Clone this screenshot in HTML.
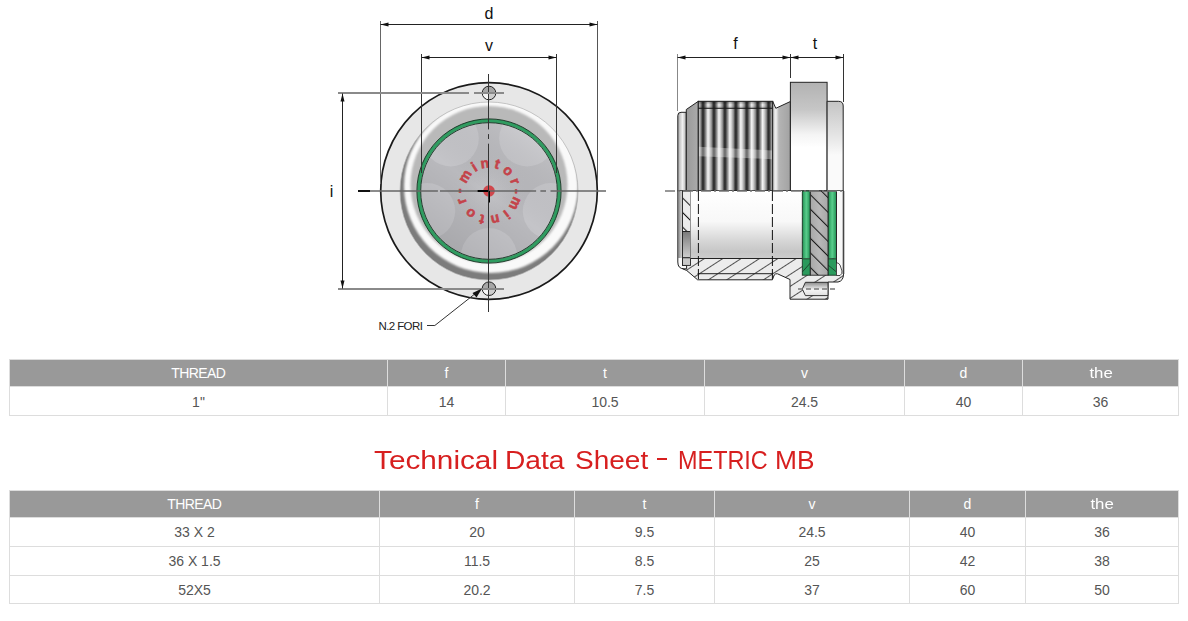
<!DOCTYPE html>
<html><head><meta charset="utf-8"><style>
*{margin:0;padding:0;box-sizing:border-box}
html,body{width:1188px;height:621px;overflow:hidden;background:#fff}
body{font-family:"Liberation Sans",sans-serif;position:relative}
.tb{position:absolute}
.tb div{position:absolute}
.th{background:#999}
.hl{left:0;height:1px;background:#ddd}
.vl{top:0;width:1px;background:#ddd}
.tht{color:#fff;font-size:14px;text-align:center;white-space:nowrap;letter-spacing:-0.6px;text-indent:-0.6px}
.tdt{color:#555;font-size:14px;text-align:center;white-space:nowrap}
.title{position:absolute;left:0;width:1188px;height:30px;color:#d71f1f;font-size:25px;top:445px;line-height:30px;white-space:nowrap}
.title span{position:absolute;top:0;transform-origin:0 0}
.title .hy{position:absolute;left:657px;top:13.4px;width:10px;height:1.8px;background:#d71f1f}
svg{position:absolute;left:0;top:0}
.dl{font-family:"Liberation Sans",sans-serif;font-size:16px;fill:#111}
.nf{font-family:"Liberation Sans",sans-serif;font-size:11.5px;letter-spacing:-0.6px;fill:#222}
.mt{font-family:"Liberation Sans",sans-serif;font-size:14px;font-weight:bold;fill:#c4434a;stroke:#c4434a;stroke-width:0.6px;text-anchor:middle}
</style></head>
<body>
<svg width="1188" height="345" viewBox="0 0 1188 345">

<defs>
<filter id="blur1" x="-20%" y="-20%" width="140%" height="140%"><feGaussianBlur stdDeviation="1.2"/></filter>
<filter id="blur2" x="-20%" y="-20%" width="140%" height="140%"><feGaussianBlur stdDeviation="1.6"/></filter>
<radialGradient id="lipg" cx="489" cy="191" r="89" gradientUnits="userSpaceOnUse">
 <stop offset="0.80" stop-color="#c2c2c2"/>
 <stop offset="0.87" stop-color="#dcdcdc"/>
 <stop offset="0.92" stop-color="#f7f7f7"/>
 <stop offset="0.97" stop-color="#f4f4f4"/>
 <stop offset="1" stop-color="#d4d4d4"/>
</radialGradient>
<linearGradient id="shadeOut" x1="0.75" y1="0.1" x2="0.3" y2="0.95">
 <stop offset="0" stop-color="#808080" stop-opacity="0"/>
 <stop offset="0.45" stop-color="#808080" stop-opacity="0.35"/>
 <stop offset="1" stop-color="#6a6a6a" stop-opacity="0.95"/>
</linearGradient>
<linearGradient id="lightIn" x1="0" y1="0" x2="0" y2="1">
 <stop offset="0" stop-color="#fff" stop-opacity="0"/>
 <stop offset="0.55" stop-color="#fff" stop-opacity="0"/>
 <stop offset="0.85" stop-color="#fff" stop-opacity="0.9"/>
 <stop offset="1" stop-color="#fff" stop-opacity="1"/>
</linearGradient>
<clipPath id="lipclip"><circle cx="489" cy="191" r="89"/></clipPath>
<radialGradient id="centerg" cx="489" cy="191" r="40" gradientUnits="userSpaceOnUse">
 <stop offset="0" stop-color="#cdcdd0" stop-opacity="0.5"/>
 <stop offset="1" stop-color="#b8b8bc" stop-opacity="0"/>
</radialGradient>
<linearGradient id="discshade" x1="0.8" y1="0.1" x2="0.2" y2="0.95">
 <stop offset="0" stop-color="#fff" stop-opacity="0.12"/>
 <stop offset="0.5" stop-color="#000" stop-opacity="0"/>
 <stop offset="1" stop-color="#000" stop-opacity="0.1"/>
</linearGradient>
<clipPath id="innerclip"><circle cx="489" cy="191" r="69"/></clipPath>
<linearGradient id="holeg" x1="0" y1="0" x2="0" y2="1">
 <stop offset="0" stop-color="#a4a4a4"/>
 <stop offset="0.48" stop-color="#a8a8a8"/>
 <stop offset="0.56" stop-color="#f2f2f2"/>
 <stop offset="1" stop-color="#fafafa"/>
</linearGradient>
<linearGradient id="noseg" x1="0" y1="0" x2="1" y2="0">
 <stop offset="0" stop-color="#a6a6a6"/>
 <stop offset="0.55" stop-color="#f0f0f0"/>
 <stop offset="1" stop-color="#b0b0b0"/>
</linearGradient>
<linearGradient id="chamg" x1="0" y1="0" x2="1" y2="0">
 <stop offset="0" stop-color="#9a9a9a"/>
 <stop offset="1" stop-color="#ababab"/>
</linearGradient>
<linearGradient id="threadg" x1="703" y1="0" x2="713.93" y2="0" gradientUnits="userSpaceOnUse" spreadMethod="repeat">
 <stop offset="0" stop-color="#2c2c2c"/>
 <stop offset="0.07" stop-color="#383838"/>
 <stop offset="0.22" stop-color="#808080"/>
 <stop offset="0.45" stop-color="#f6f6f6"/>
 <stop offset="0.6" stop-color="#d2d2d2"/>
 <stop offset="0.8" stop-color="#8a8a8a"/>
 <stop offset="0.93" stop-color="#383838"/>
 <stop offset="1" stop-color="#2c2c2c"/>
</linearGradient>
<linearGradient id="threadtop" x1="0" y1="0" x2="0" y2="1">
 <stop offset="0" stop-color="#000" stop-opacity="0.35"/>
 <stop offset="0.5" stop-color="#000" stop-opacity="0"/>
 <stop offset="1" stop-color="#000" stop-opacity="0.2"/>
</linearGradient>
<linearGradient id="grooveg" x1="0" y1="0" x2="1" y2="0">
 <stop offset="0" stop-color="#c0c0c0"/>
 <stop offset="0.18" stop-color="#f2f2f2"/>
 <stop offset="0.35" stop-color="#b4b4b4"/>
 <stop offset="1" stop-color="#a2a2a2"/>
</linearGradient>
<linearGradient id="flangeg" x1="0" y1="0" x2="0" y2="1">
 <stop offset="0" stop-color="#b2b2b2"/>
 <stop offset="0.25" stop-color="#c6c6c6"/>
 <stop offset="0.48" stop-color="#f4f4f4"/>
 <stop offset="0.6" stop-color="#ffffff"/>
 <stop offset="1" stop-color="#ffffff"/>
</linearGradient>
<linearGradient id="capg" x1="0" y1="0" x2="0" y2="1">
 <stop offset="0" stop-color="#c4c4c4"/>
 <stop offset="0.45" stop-color="#ebebeb"/>
 <stop offset="0.6" stop-color="#fafafa"/>
 <stop offset="1" stop-color="#fafafa"/>
</linearGradient>
<linearGradient id="boreg" x1="0" y1="191" x2="0" y2="258.5" gradientUnits="userSpaceOnUse">
 <stop offset="0" stop-color="#ffffff"/>
 <stop offset="0.45" stop-color="#f8f8f8"/>
 <stop offset="0.72" stop-color="#d8d8d8"/>
 <stop offset="0.9" stop-color="#c6c6c6"/>
 <stop offset="1" stop-color="#cccccc"/>
</linearGradient>
<linearGradient id="wallg" x1="0" y1="0" x2="1" y2="0">
 <stop offset="0" stop-color="#6e6e6e"/>
 <stop offset="0.5" stop-color="#b4b4b4"/>
 <stop offset="1" stop-color="#d8d8d8"/>
</linearGradient>
<linearGradient id="boxg" x1="0" y1="0" x2="0" y2="1">
 <stop offset="0" stop-color="#7a7a7a"/>
 <stop offset="1" stop-color="#cfcfcf"/>
</linearGradient>
<linearGradient id="greeng" x1="0" y1="0" x2="1" y2="0">
 <stop offset="0" stop-color="#1f9052"/>
 <stop offset="0.5" stop-color="#5acd8c"/>
 <stop offset="1" stop-color="#1f9052"/>
</linearGradient>
<linearGradient id="glassg" x1="0" y1="0" x2="1" y2="0">
 <stop offset="0" stop-color="#a8a8a8"/>
 <stop offset="0.5" stop-color="#b8b8b8"/>
 <stop offset="1" stop-color="#a8a8a8"/>
</linearGradient>
<linearGradient id="drillg" x1="0" y1="0" x2="0" y2="1">
 <stop offset="0" stop-color="#8a8a8a"/>
 <stop offset="0.55" stop-color="#f4f4f4"/>
 <stop offset="1" stop-color="#e0e0e0"/>
</linearGradient>
<pattern id="hatch" width="10" height="10" patternUnits="userSpaceOnUse" patternTransform="rotate(57)">
 <line x1="0.5" y1="0" x2="0.5" y2="10" stroke="#2a2a2a" stroke-width="0.8"/>
</pattern>
<pattern id="hatch2" width="10.3" height="10.3" patternUnits="userSpaceOnUse" patternTransform="translate(810,195) rotate(-45)">
 <line x1="0.5" y1="0" x2="0.5" y2="10.3" stroke="#1a1a1a" stroke-width="1.1"/>
</pattern>
</defs>
<circle cx="489.0" cy="191.0" r="108.3" fill="#e7e7e7"/>
<circle cx="489.0" cy="191.0" r="89" fill="#f9f9f9"/>
<g clip-path="url(#lipclip)">
<path d="M396,191 a93,93 0 1,0 186,0 a93,93 0 1,0 -186,0 Z M404,186 a87,87 0 1,1 174,0 a87,87 0 1,1 -174,0 Z" fill="#7c7c7c" fill-rule="evenodd" filter="url(#blur1)"/>
<circle cx="489" cy="184.5" r="78.5" fill="#b9b9b9" filter="url(#blur1)"/>
</g>
<circle cx="489.0" cy="191.0" r="89" fill="none" stroke="#b0b0b0" stroke-width="0.7"/>
<circle cx="489.0" cy="191.0" r="71" fill="#b9b9bd"/>
<g clip-path="url(#innerclip)">
<circle cx="450.8" cy="138.4" r="28" fill="#c4c4c8"/>
<circle cx="527.2" cy="138.4" r="28" fill="#c4c4c8"/>
<circle cx="550.8" cy="211.1" r="28" fill="#c4c4c8"/>
<circle cx="489.0" cy="256.0" r="28" fill="#c4c4c8"/>
<circle cx="427.2" cy="211.1" r="28" fill="#c4c4c8"/>
<circle cx="489.0" cy="191.0" r="40" fill="url(#centerg)"/>
<circle cx="489.0" cy="191.0" r="71" fill="url(#discshade)"/>
</g>
<circle cx="489.0" cy="191.0" r="70.2" fill="none" stroke="#2f9c60" stroke-width="3.4"/>
<circle cx="489.0" cy="191.0" r="72.1" fill="none" stroke="#14301f" stroke-width="0.9"/>
<circle cx="489.0" cy="191.0" r="68.3" fill="none" stroke="#14301f" stroke-width="0.9"/>
<circle cx="489.0" cy="191.0" r="108.3" fill="none" stroke="#1a1a1a" stroke-width="1.7"/>
<circle cx="489.0" cy="93.0" r="6.8" fill="url(#holeg)"/>
<path d="M489.0,93.0 L495.8,93.0 A6.8,6.8 0 0,1 489.0,99.8 Z" fill="#c4c4c4" opacity="0.8"/>
<circle cx="489.0" cy="93.0" r="6.8" fill="none" stroke="#222" stroke-width="1"/>
<circle cx="489.0" cy="288.7" r="6.8" fill="url(#holeg)"/>
<path d="M489.0,288.7 L495.8,288.7 A6.8,6.8 0 0,1 489.0,295.5 Z" fill="#c4c4c4" opacity="0.8"/>
<circle cx="489.0" cy="288.7" r="6.8" fill="none" stroke="#222" stroke-width="1"/>
<text x="0" y="0" transform="translate(468.92,178.79) rotate(-58.70)" class="mt">m</text>
<text x="0" y="0" transform="translate(476.69,170.98) rotate(-31.60)" class="mt">i</text>
<text x="0" y="0" transform="translate(485.57,167.75) rotate(-8.40)" class="mt">n</text>
<text x="0" y="0" transform="translate(495.99,168.56) rotate(17.30)" class="mt">t</text>
<text x="0" y="0" transform="translate(505.15,173.93) rotate(43.40)" class="mt">o</text>
<text x="0" y="0" transform="translate(511.00,182.73) rotate(69.40)" class="mt">r</text>
<text x="0" y="0" transform="translate(512.50,191.33) rotate(90.80)" class="mt">-</text>
<text x="0" y="0" transform="translate(511.28,201.67) rotate(115.60)" class="mt">m</text>
<text x="0" y="0" transform="translate(503.86,210.73) rotate(143.00)" class="mt">i</text>
<text x="0" y="0" transform="translate(494.35,215.11) rotate(167.50)" class="mt">n</text>
<text x="0" y="0" transform="translate(483.02,214.97) rotate(194.00)" class="mt">t</text>
<text x="0" y="0" transform="translate(473.19,209.98) rotate(219.80)" class="mt">o</text>
<text x="0" y="0" transform="translate(465.85,199.61) rotate(249.60)" class="mt">r</text>
<text x="0" y="0" transform="translate(464.30,191.00) rotate(270.00)" class="mt">-</text>
<circle cx="489.0" cy="191.0" r="5.8" fill="#d0474c"/>
<line x1="358" y1="191.0" x2="370" y2="191.0" stroke="#111" stroke-width="2"/>
<line x1="370" y1="191.0" x2="437.9" y2="191.0" stroke="#666" stroke-width="1.5"/>
<line x1="440" y1="191.0" x2="477.5" y2="191.0" stroke="#666" stroke-width="1.5"/>
<line x1="489" y1="191.0" x2="536.1" y2="191.0" stroke="#666" stroke-width="1.5"/>
<line x1="540.4" y1="191.0" x2="546" y2="191.0" stroke="#666" stroke-width="1.5"/>
<line x1="550.5" y1="191.0" x2="606" y2="191.0" stroke="#666" stroke-width="1.5"/>
<line x1="477.5" y1="191.0" x2="489.0" y2="191.0" stroke="#000" stroke-width="2"/>
<line x1="489.0" y1="191.0" x2="489.0" y2="202.5" stroke="#000" stroke-width="2"/>
<line x1="488.5" y1="74" x2="488.5" y2="129.4" stroke="#333" stroke-width="1"/>
<line x1="488.5" y1="134.1" x2="488.5" y2="139" stroke="#333" stroke-width="1"/>
<line x1="488.5" y1="143.7" x2="488.5" y2="312" stroke="#333" stroke-width="1"/>
<line x1="380.5" y1="21" x2="380.5" y2="184" stroke="#666" stroke-width="1"/>
<line x1="597.5" y1="21" x2="597.5" y2="181" stroke="#555" stroke-width="1"/>
<line x1="380.5" y1="24.5" x2="597.5" y2="24.5" stroke="#222" stroke-width="1"/>
<polygon points="380.5,24.5 388.5,22.5 388.5,26.5" fill="#111"/>
<polygon points="597.5,24.5 589.5,22.5 589.5,26.5" fill="#111"/>
<text x="489" y="19" class="dl" text-anchor="middle">d</text>
<line x1="421.5" y1="54" x2="421.5" y2="173" stroke="#333" stroke-width="1"/>
<line x1="556.5" y1="54" x2="556.5" y2="173" stroke="#333" stroke-width="1"/>
<line x1="421.5" y1="57.5" x2="556.5" y2="57.5" stroke="#222" stroke-width="1"/>
<polygon points="421.5,57.5 429.5,55.5 429.5,59.5" fill="#111"/>
<polygon points="556.5,57.5 548.5,55.5 548.5,59.5" fill="#111"/>
<text x="489" y="50.6" class="dl" text-anchor="middle">v</text>
<line x1="338" y1="93" x2="469" y2="93" stroke="#8a8a8a" stroke-width="2"/>
<line x1="474" y1="93" x2="504" y2="93" stroke="#8a8a8a" stroke-width="2"/>
<line x1="338" y1="289" x2="504" y2="289" stroke="#8a8a8a" stroke-width="2"/>
<line x1="342.5" y1="93.5" x2="342.5" y2="288.5" stroke="#222" stroke-width="1"/>
<polygon points="342.5,93.5 340.5,101.5 344.5,101.5" fill="#111"/>
<polygon points="342.5,288.5 340.5,280.5 344.5,280.5" fill="#111"/>
<text x="331.5" y="196.5" class="dl" text-anchor="middle">i</text>
<polyline points="427,325.5 434.8,325.5 476,293" fill="none" stroke="#333" stroke-width="1"/>
<polygon points="482,288.5 472.5,293 476.5,297.5" fill="#111"/>
<text x="378.5" y="329.5" class="nf">N.2 FORI</text>
<path d="M677.8,191 L677.8,115.5 Q677.8,112.3 681,112.3 L686.3,112.3 L686.3,191 Z" fill="url(#noseg)" stroke="#222" stroke-width="1"/>
<path d="M686.3,191 L686.3,109.5 L698.3,101.3 L698.3,191 Z" fill="url(#chamg)" stroke="#222" stroke-width="1"/>
<rect x="698.3" y="101.3" width="74.4" height="89.7" fill="url(#threadg)"/>
<rect x="698.3" y="101.3" width="74.4" height="7" fill="url(#threadtop)"/>
<line x1="698.3" y1="108.3" x2="772.7" y2="108.3" stroke="#1a1a1a" stroke-width="1"/>
<path d="M698.3,146.7 L772.7,150.5 L772.7,159.2 L698.3,156.3 Z" fill="#fff" opacity="0.32"/>
<rect x="698.3" y="101.3" width="74.4" height="89.7" fill="none" stroke="#1a1a1a" stroke-width="1"/>
<path d="M772.7,191 L772.7,101.3 L775.8,108.3 L790.4,101.5 L790.4,191 Z" fill="url(#grooveg)" stroke="#222" stroke-width="1"/>
<rect x="790.4" y="82.3" width="36.7" height="108.7" fill="url(#flangeg)" stroke="#222" stroke-width="1"/>
<path d="M827.1,191 L827.1,101.3 L838.5,101.3 Q843.2,101.3 843.2,106 L843.2,191 Z" fill="url(#capg)" stroke="#222" stroke-width="1"/>
<path d="M682.5,191 L682.5,268.8 L686.6,270.4 L697.6,279.8 L772.4,279.8 L774.2,275 Q775.5,273.3 777.5,273.8 L790,279.5 L790,299.2 L828,299.2 L828,282 L838,282 Q843.5,281 843.5,274 L843.5,191 Z" fill="#ececec"/>
<path d="M682.5,191 L682.5,268.8 L686.6,270.4 L697.6,279.8 L772.4,279.8 L774.2,275 Q775.5,273.3 777.5,273.8 L790,279.5 L790,299.2 L828,299.2 L828,282 L838,282 Q843.5,281 843.5,274 L843.5,191 Z" fill="url(#hatch)"/>
<path d="M682.5,191 L682.5,268.8 L686.6,270.4 L697.6,279.8 L772.4,279.8 L774.2,275 Q775.5,273.3 777.5,273.8 L790,279.5 L790,299.2 L828,299.2 L828,282 L838,282 Q843.5,281 843.5,274 L843.5,191 Z" fill="none" stroke="#222" stroke-width="1"/>
<path d="M677.8,191 L677.8,262 Q677.8,268.8 684,268.8 L686.6,268.8 L686.6,265.4 L682.5,265.4 L682.5,191 Z" fill="#fafafa" stroke="#222" stroke-width="1"/>
<rect x="677.8" y="191" width="4.7" height="67" fill="url(#wallg)"/>
<rect x="682.5" y="191" width="8" height="40.5" fill="#ececec"/>
<rect x="682.5" y="191" width="8" height="40.5" fill="url(#hatch2)" stroke="#222" stroke-width="0.9"/>
<rect x="682.5" y="231.5" width="8" height="26.3" fill="url(#boxg)" stroke="#222" stroke-width="0.9"/>
<rect x="682.5" y="257.8" width="8" height="7.6" fill="#c9c9c9" stroke="#222" stroke-width="0.9"/>
<rect x="690.5" y="191" width="111.8" height="67.5" fill="url(#boreg)"/>
<line x1="690.5" y1="258.5" x2="802.3" y2="258.5" stroke="#222" stroke-width="1"/>
<line x1="697.6" y1="273.7" x2="772.4" y2="273.7" stroke="#222" stroke-width="1"/>
<rect x="802.3" y="191" width="8.0" height="67.5" fill="url(#greeng)"/>
<rect x="802.3" y="258.5" width="8.0" height="16.7" fill="#2a9a5c"/>
<rect x="802.3" y="191" width="8.0" height="84.2" fill="none" stroke="#1b3524" stroke-width="0.9"/>
<line x1="802.3" y1="258.8" x2="810.3" y2="258.8" stroke="#1b3524" stroke-width="0.9"/>
<rect x="828.0" y="191" width="8.5" height="67.5" fill="url(#greeng)"/>
<rect x="828.0" y="258.5" width="8.5" height="16.7" fill="#2a9a5c"/>
<rect x="828.0" y="191" width="8.5" height="84.2" fill="none" stroke="#1b3524" stroke-width="0.9"/>
<line x1="828.0" y1="258.8" x2="836.5" y2="258.8" stroke="#1b3524" stroke-width="0.9"/>
<line x1="802.3" y1="272" x2="810.3" y2="263" stroke="#1b3524" stroke-width="0.8"/>
<line x1="828" y1="265" x2="836.5" y2="272" stroke="#1b3524" stroke-width="0.8"/>
<rect x="810.3" y="191" width="17.7" height="84.2" fill="url(#glassg)"/>
<rect x="810.3" y="191" width="17.7" height="84.2" fill="url(#hatch2)"/>
<rect x="810.3" y="191" width="17.7" height="84.2" fill="none" stroke="#222" stroke-width="0.9"/>
<rect x="836.5" y="191" width="6.5" height="84" fill="#f8f8f8"/>
<path d="M836.5,191 L836.5,263 Q838,262 840,265 L842,271 Q842.5,274 840,275.5 L836.5,275.5 Z" fill="#f8f8f8" stroke="#222" stroke-width="0.8"/>
<line x1="843.5" y1="191" x2="843.5" y2="274" stroke="#444" stroke-width="1.6"/>
<path d="M805.4,282.3 L828,282.3 L828,295.6 L805.4,295.6 L802.3,289 Z" fill="url(#drillg)" stroke="#222" stroke-width="0.9"/>
<line x1="698.4" y1="191" x2="698.4" y2="279.8" stroke="#111" stroke-width="1" stroke-dasharray="10,3"/>
<line x1="772.4" y1="191" x2="772.4" y2="279.8" stroke="#111" stroke-width="1" stroke-dasharray="10,3"/>
<line x1="665" y1="191" x2="842" y2="191" stroke="#777" stroke-width="1.4" stroke-dasharray="10,3,2,3"/>
<line x1="798" y1="289" x2="836.5" y2="289" stroke="#777" stroke-width="1.3" stroke-dasharray="5,3"/>
<line x1="677.5" y1="54" x2="677.5" y2="111" stroke="#888" stroke-width="1"/>
<line x1="790.5" y1="54" x2="790.5" y2="78" stroke="#333" stroke-width="1"/>
<line x1="843.5" y1="54" x2="843.5" y2="102" stroke="#333" stroke-width="1"/>
<line x1="677.5" y1="57.5" x2="790.5" y2="57.5" stroke="#222" stroke-width="1"/>
<polygon points="677.5,57.5 685.5,55.5 685.5,59.5" fill="#111"/>
<polygon points="790.5,57.5 782.5,55.5 782.5,59.5" fill="#111"/>
<line x1="790.5" y1="57.5" x2="843.5" y2="57.5" stroke="#222" stroke-width="1"/>
<polygon points="790.5,57.5 798.5,55.5 798.5,59.5" fill="#111"/>
<polygon points="843.5,57.5 835.5,55.5 835.5,59.5" fill="#111"/>
<text x="735.5" y="48.5" class="dl" text-anchor="middle">f</text>
<text x="815" y="48.5" class="dl" text-anchor="middle">t</text>
</svg>
<div class="tb" style="left:9px;top:359px;width:1170px;height:56px">
<div class="th" style="left:1px;top:1px;width:1168px;height:26px"></div>
<div class="hl" style="top:0px;width:1170px"></div>
<div class="hl" style="top:27px;width:1170px"></div>
<div class="hl" style="top:56px;width:1170px"></div>
<div class="vl" style="left:0px;height:56px"></div>
<div class="vl" style="left:378px;height:56px"></div>
<div class="vl" style="left:496px;height:56px"></div>
<div class="vl" style="left:695px;height:56px"></div>
<div class="vl" style="left:895px;height:56px"></div>
<div class="vl" style="left:1013px;height:56px"></div>
<div class="vl" style="left:1169px;height:56px"></div>
<div class="tht" style="left:1px;width:377px;top:1px;height:26px;line-height:26px">THREAD</div>
<div class="tht" style="left:379px;width:117px;top:1px;height:26px;line-height:26px">f</div>
<div class="tht" style="left:497px;width:198px;top:1px;height:26px;line-height:26px">t</div>
<div class="tht" style="left:696px;width:199px;top:1px;height:26px;line-height:26px">v</div>
<div class="tht" style="left:896px;width:117px;top:1px;height:26px;line-height:26px">d</div>
<div class="tht" style="left:1014px;width:155px;top:1px;height:26px;line-height:26px"><span style="display:inline-block;letter-spacing:0;transform:scaleX(1.2);margin-left:1.5px">the</span></div>
<div class="tdt" style="left:1px;width:377px;top:29px;height:28px;line-height:28px">1"</div>
<div class="tdt" style="left:379px;width:117px;top:29px;height:28px;line-height:28px">14</div>
<div class="tdt" style="left:497px;width:198px;top:29px;height:28px;line-height:28px">10.5</div>
<div class="tdt" style="left:696px;width:199px;top:29px;height:28px;line-height:28px">24.5</div>
<div class="tdt" style="left:896px;width:117px;top:29px;height:28px;line-height:28px">40</div>
<div class="tdt" style="left:1014px;width:155px;top:29px;height:28px;line-height:28px">36</div>
</div>
<div class="title"><span style="left:374px;transform:scaleX(1.19)">Technical</span><span style="left:505.25px;transform:scaleX(1.127)">Data</span><span style="left:574.6px;transform:scaleX(1.12)">Sheet</span><i class="hy"></i><span style="left:677.5px;transform:scaleX(0.937)">METRIC</span><span style="left:775.1px;transform:scaleX(1.053)">MB</span></div>
<div class="tb" style="left:9px;top:490px;width:1170px;height:113px">
<div class="th" style="left:1px;top:1px;width:1168px;height:26px"></div>
<div class="hl" style="top:0px;width:1170px"></div>
<div class="hl" style="top:27px;width:1170px"></div>
<div class="hl" style="top:56px;width:1170px"></div>
<div class="hl" style="top:85px;width:1170px"></div>
<div class="hl" style="top:113px;width:1170px"></div>
<div class="vl" style="left:0px;height:113px"></div>
<div class="vl" style="left:370px;height:113px"></div>
<div class="vl" style="left:565px;height:113px"></div>
<div class="vl" style="left:705px;height:113px"></div>
<div class="vl" style="left:900px;height:113px"></div>
<div class="vl" style="left:1016px;height:113px"></div>
<div class="vl" style="left:1169px;height:113px"></div>
<div class="tht" style="left:1px;width:369px;top:1px;height:26px;line-height:26px">THREAD</div>
<div class="tht" style="left:371px;width:194px;top:1px;height:26px;line-height:26px">f</div>
<div class="tht" style="left:566px;width:139px;top:1px;height:26px;line-height:26px">t</div>
<div class="tht" style="left:706px;width:194px;top:1px;height:26px;line-height:26px">v</div>
<div class="tht" style="left:901px;width:115px;top:1px;height:26px;line-height:26px">d</div>
<div class="tht" style="left:1017px;width:152px;top:1px;height:26px;line-height:26px"><span style="display:inline-block;letter-spacing:0;transform:scaleX(1.2);margin-left:1.5px">the</span></div>
<div class="tdt" style="left:1px;width:369px;top:28px;height:28px;line-height:28px">33 X 2</div>
<div class="tdt" style="left:371px;width:194px;top:28px;height:28px;line-height:28px">20</div>
<div class="tdt" style="left:566px;width:139px;top:28px;height:28px;line-height:28px">9.5</div>
<div class="tdt" style="left:706px;width:194px;top:28px;height:28px;line-height:28px">24.5</div>
<div class="tdt" style="left:901px;width:115px;top:28px;height:28px;line-height:28px">40</div>
<div class="tdt" style="left:1017px;width:152px;top:28px;height:28px;line-height:28px">36</div>
<div class="tdt" style="left:1px;width:369px;top:57px;height:28px;line-height:28px">36 X 1.5</div>
<div class="tdt" style="left:371px;width:194px;top:57px;height:28px;line-height:28px">11.5</div>
<div class="tdt" style="left:566px;width:139px;top:57px;height:28px;line-height:28px">8.5</div>
<div class="tdt" style="left:706px;width:194px;top:57px;height:28px;line-height:28px">25</div>
<div class="tdt" style="left:901px;width:115px;top:57px;height:28px;line-height:28px">42</div>
<div class="tdt" style="left:1017px;width:152px;top:57px;height:28px;line-height:28px">38</div>
<div class="tdt" style="left:1px;width:369px;top:86px;height:27px;line-height:28px">52X5</div>
<div class="tdt" style="left:371px;width:194px;top:86px;height:27px;line-height:28px">20.2</div>
<div class="tdt" style="left:566px;width:139px;top:86px;height:27px;line-height:28px">7.5</div>
<div class="tdt" style="left:706px;width:194px;top:86px;height:27px;line-height:28px">37</div>
<div class="tdt" style="left:901px;width:115px;top:86px;height:27px;line-height:28px">60</div>
<div class="tdt" style="left:1017px;width:152px;top:86px;height:27px;line-height:28px">50</div>
</div>
</body></html>
